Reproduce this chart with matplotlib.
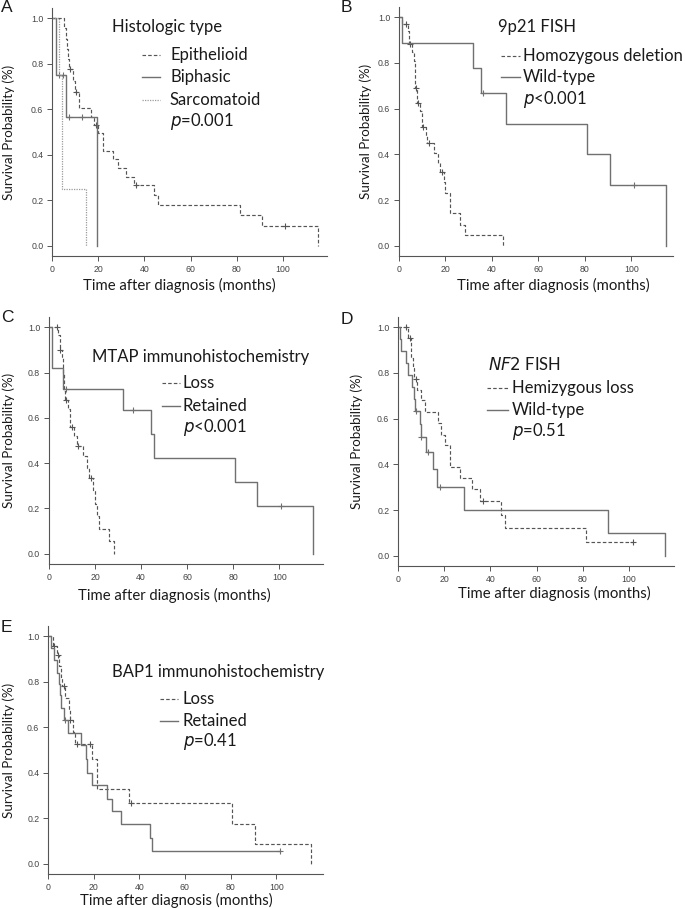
import numpy as np
import matplotlib
matplotlib.use("Agg")
import matplotlib.pyplot as plt
from matplotlib.lines import Line2D

##### DATA ######
# A - histologic type
ep_t = [0, 5, 6, 6.5, 7, 7.5, 9.3, 9.8, 11.5, 16.7, 18, 20, 22, 26.5, 28.7, 32, 35.3, 44.3, 46, 81.3, 91, 115]
ep_s = [1.0, 0.955, 0.91, 0.865, 0.82, 0.775, 0.725, 0.675, 0.604, 0.567, 0.53, 0.495, 0.418, 0.38, 0.342,
        0.304, 0.267, 0.223, 0.179, 0.135, 0.088, 0.0]
ep_c = [8.0, 10.3, 19.0, 36.4, 101]
bi_t = [0, 1.6, 6.0, 19.3]
bi_s = [1.0, 0.75, 0.565, 0.0]
bi_c = [3.2, 4.6, 7.4, 12.8]
sa_t = [0, 2.9, 4.5, 14.6]
sa_s = [1.0, 0.75, 0.25, 0.0]
sa_c = []

# B - 9p21 FISH
wt_t = [0, 1.4, 32, 35.5, 46, 81, 91, 115]
wt_s = [1.0, 0.889, 0.778, 0.667, 0.533, 0.40, 0.267, 0.0]
wt_c = [36.3, 101]
hd_t = [0, 1.5, 3.8, 4.3, 5.8, 6.3, 6.8, 7.1, 7.7, 9.0, 9.7, 10.0, 11.8, 12.2, 15.0, 17.0, 17.8, 19.3, 20.0,
        21.9, 26.2, 28.3, 44.6]
hd_s = [1.0, 0.971, 0.941, 0.883, 0.85, 0.81, 0.77, 0.69, 0.623, 0.59, 0.555, 0.52, 0.484, 0.448, 0.404,
        0.364, 0.324, 0.278, 0.232, 0.142, 0.09, 0.045, 0.0]
hd_c = [3.2, 4.9, 7.4, 8.0, 10.3, 12.8, 18.5]

# C - MTAP IHC
re_t = [0, 1.4, 5.9, 32, 44.3, 45.7, 80.9, 90.3, 114.5]
re_s = [1.0, 0.818, 0.727, 0.636, 0.53, 0.424, 0.318, 0.212, 0.0]
re_c = [7.3, 36.4, 100.7]
lo_t = [0, 4.1, 4.6, 5.6, 6.0, 6.3, 7.0, 8.4, 9.2, 10.9, 12.2, 14.6, 16.7, 17.5, 19.0, 20.0, 21.0, 21.9, 26.1, 28.3]
lo_s = [1.0, 0.967, 0.9, 0.867, 0.8, 0.72, 0.68, 0.64, 0.56, 0.52, 0.474, 0.43, 0.38, 0.334, 0.28, 0.22,
        0.165, 0.11, 0.055, 0.0]
lo_c = [3.3, 4.8, 7.6, 10.1, 12.8, 18.1]

# D - NF2 FISH
dwt_t = [0, 1.0, 1.4, 3.3, 4.3, 6.2, 6.8, 7.4, 9.4, 9.8, 12.0, 15.2, 16.9, 28.6, 91, 115.6]
dwt_s = [1.0, 0.947, 0.895, 0.842, 0.789, 0.737, 0.684, 0.632, 0.577, 0.52, 0.456, 0.38, 0.30, 0.20, 0.10, 0.0]
dwt_c = [7.9, 10.1, 13.0, 18.4]
hl_t = [0, 4.2, 5.5, 5.8, 6.3, 6.8, 8.2, 10.1, 11.6, 17.3, 18.8, 20.5, 22.7, 26.7, 32.2, 35.4, 44.8, 46.2,
        81.2, 101.6]
hl_s = [1.0, 0.955, 0.91, 0.865, 0.82, 0.775, 0.727, 0.68, 0.63, 0.58, 0.53, 0.485, 0.39, 0.34, 0.29, 0.24,
        0.18, 0.12, 0.06, 0.06]
hl_c = [3.3, 5.1, 7.7, 36.6, 101.6]

# E - BAP1 IHC
ere_t = [0, 1.2, 2.6, 4.1, 4.8, 5.2, 5.8, 7.0, 8.9, 14.3, 16.8, 17.2, 19.4, 26.0, 28.2, 31.8, 44.5, 45.7, 101.6]
ere_s = [1.0, 0.95, 0.895, 0.84, 0.79, 0.74, 0.685, 0.633, 0.575, 0.52, 0.46, 0.40, 0.345, 0.285, 0.23,
         0.173, 0.115, 0.057, 0.057]
ere_c = [7.3, 101.6]
elo_t = [0, 2.0, 4.0, 5.0, 5.8, 6.3, 7.4, 9.4, 9.6, 10.9, 11.8, 19.1, 21.6, 35.5, 80.7, 90.9, 115.3]
elo_s = [1.0, 0.958, 0.916, 0.87, 0.82, 0.78, 0.73, 0.68, 0.63, 0.58, 0.525, 0.462, 0.33, 0.265, 0.175,
         0.087, 0.0]
elo_c = [2.6, 4.5, 7.0, 9.8, 12.6, 18.2, 36.4]

x_ticks = [0, 20, 40, 60, 80, 100]
y_ticks = [0.0, 0.2, 0.4, 0.6, 0.8, 1.0]

W, H = 685, 908
TXT = ['Lato', 'DejaVu Sans']
TICK = ['Liberation Sans', 'DejaVu Sans']
LEG = 12.0

DASH = dict(color='#555555', ls=(0, (3, 1.8)), lw=0.85)
SOLID = dict(color='#707070', ls='-', lw=1.0)
DOT = dict(color='#9a9a9a', ls=(0, (1, 1)), lw=0.9)


def px_axes(fig, l, r, t, b):
	return fig.add_axes([l / W, 1 - b / H, (r - l) / W, (b - t) / H])


def km(ax, t, s, cens, style):
	t = np.asarray(t, float)
	s = np.asarray(s, float)
	ax.step(t, s, where='post', **style)
	if len(cens):
		c = np.asarray(cens, float)
		lev = s[np.searchsorted(t, c, side='right') - 1]
		ax.plot(c, lev, ls='none', marker='+', ms=5, mew=0.8, color=style['color'])


def ftext(fig, x, y, s, size=LEG, **kw):
	fig.text(x / W, 1 - y / H, s, fontsize=size, family=TXT, va='center', color='#1a1a1a', **kw)


def legline(fig, x0, x1, y, style):
	fig.add_artist(Line2D([x0 / W, x1 / W], [1 - y / H, 1 - y / H], transform=fig.transFigure,
	                      color=style['color'], ls=style['ls'], lw=style['lw']))


def style_axes(ax, xmax):
	ax.set_xlim(0, xmax)
	ax.set_ylim(-0.045, 1.045)
	ax.set_xticks(x_ticks)
	ax.set_yticks(y_ticks)
	ax.set_yticklabels(['%.1f' % v for v in y_ticks])
	for sp in ['top', 'right']:
		ax.spines[sp].set_visible(False)
	for sp in ['left', 'bottom']:
		ax.spines[sp].set_color('#555555')
		ax.spines[sp].set_linewidth(0.8)
	ax.tick_params(direction='out', length=3.3, width=0.7, color='#555555', labelsize=6.3,
	               labelcolor='#444444', pad=3)
	for lab in ax.get_xticklabels() + ax.get_yticklabels():
		lab.set_family(TICK)
	ax.patch.set_alpha(0)


###### PLOT ######
def plot():
	fig = plt.figure(figsize=(W / 100, H / 100), dpi=100)

	panels = [
		# letter, axes box (l, r, t, b), xmax, ylabel x, xlabel (x, y)
		('A', (52, 327, 8, 256), 119, 9, (179, 285)),
		('B', (399, 673, 7, 256), 118, 366, (553, 285)),
		('C', (49, 323, 317, 564), 119, 9, (174, 595)),
		('D', (398, 674, 317, 566), 119.5, 357, (554, 593)),
		('E', (48, 323, 626, 874), 120.5, 9, (176, 900)),
	]
	letter_pos = {'A': (1, 8), 'B': (341, 8), 'C': (1, 317), 'D': (341, 319), 'E': (1, 628)}
	axes = {}
	for letter, box, xmax, ylx, (xlx, xly) in panels:
		ax = px_axes(fig, *box)
		style_axes(ax, xmax)
		axes[letter] = ax
		fig.text(ylx / W, 1 - ((box[2] + box[3]) / 2) / H, 'Survival Probability (%)', rotation=90,
		         fontsize=9.6, family=TXT, ha='center', va='center', color='#1a1a1a')
		fig.text(xlx / W, 1 - xly / H, 'Time after diagnosis (months)', fontsize=10.7, family=TXT,
		         ha='center', va='center', color='#1a1a1a')
		lx, ly = letter_pos[letter]
		fig.text(lx / W, 1 - ly / H, letter, fontsize=12.5, family=TICK, va='center', color='#1a1a1a')

	# A
	ax = axes['A']
	km(ax, ep_t, ep_s, ep_c, DASH)
	km(ax, bi_t, bi_s, bi_c, SOLID)
	km(ax, sa_t, sa_s, sa_c, DOT)
	ftext(fig, 112, 27, 'Histologic type')
	for y, lab, st in [(55, 'Epithelioid', DASH), (77, 'Biphasic', SOLID), (100, 'Sarcomatoid', DOT)]:
		legline(fig, 142, 160, y, st)
		ftext(fig, 170, y, lab)
	ftext(fig, 170, 122, r'$\it{p}$=0.001')

	# B
	ax = axes['B']
	km(ax, hd_t, hd_s, hd_c, DASH)
	km(ax, wt_t, wt_s, wt_c, SOLID)
	ftext(fig, 498, 27, '9p21 FISH')
	for y, lab, st in [(56, 'Homozygous deletion', DASH), (77, 'Wild-type', SOLID)]:
		legline(fig, 501, 520, y, st)
		ftext(fig, 523, y, lab)
	ftext(fig, 523, 99, r'$\it{p}$<0.001')

	# C
	ax = axes['C']
	km(ax, lo_t, lo_s, lo_c, DASH)
	km(ax, re_t, re_s, re_c, SOLID)
	ftext(fig, 92, 357, 'MTAP immunohistochemistry')
	for y, lab, st in [(383, 'Loss', DASH), (406, 'Retained', SOLID)]:
		legline(fig, 162, 180, y, st)
		ftext(fig, 183, y, lab)
	ftext(fig, 183, 428, r'$\it{p}$<0.001')

	# D
	ax = axes['D']
	km(ax, hl_t, hl_s, hl_c, DASH)
	km(ax, dwt_t, dwt_s, dwt_c, SOLID)
	ftext(fig, 488, 365, r'$\it{NF2}$ FISH')
	for y, lab, st in [(388, 'Hemizygous loss', DASH), (410, 'Wild-type', SOLID)]:
		legline(fig, 487, 508, y, st)
		ftext(fig, 512, y, lab)
	ftext(fig, 512, 431, r'$\it{p}$=0.51')

	# E
	ax = axes['E']
	km(ax, elo_t, elo_s, elo_c, DASH)
	km(ax, ere_t, ere_s, ere_c, SOLID)
	ftext(fig, 112, 672, 'BAP1 immunohistochemistry')
	for y, lab, st in [(699, 'Loss', DASH), (721, 'Retained', SOLID)]:
		legline(fig, 160, 178, y, st)
		ftext(fig, 183, y, lab)
	ftext(fig, 183, 742, r'$\it{p}$=0.41')

	fig.savefig('out.png', dpi=100, facecolor='white')
	plt.close(fig)


plot()
